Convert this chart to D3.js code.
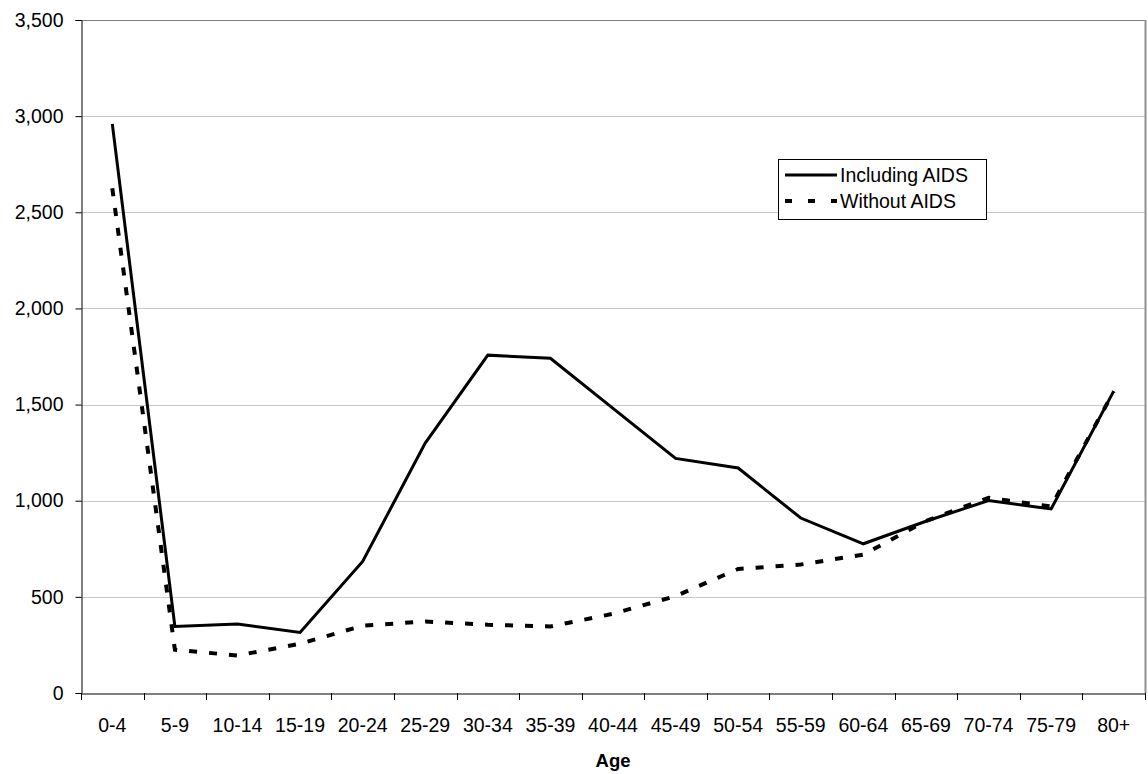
<!DOCTYPE html>
<html>
<head>
<meta charset="utf-8">
<script src="https://cdn.jsdelivr.net/npm/d3@7"></script>
<style>
  html, body { margin: 0; padding: 0; background: #fff; }
  svg { display: block; font-family: "Liberation Sans", Arial, sans-serif; }
</style>
</head>
<body>
<svg id="chart" width="1148" height="774"></svg>
<script>
const categories = ["0-4","5-9","10-14","15-19","20-24","25-29","30-34","35-39","40-44","45-49","50-54","55-59","60-64","65-69","70-74","75-79","80+"];
const includingAIDS = [2960, 346, 359, 315, 684, 1300, 1757, 1741, 1480, 1220, 1170, 910, 776, 893, 1001, 957, 1570];
const withoutAIDS   = [2625, 225, 195, 256, 350, 372, 355, 346, 412, 504, 645, 668, 720, 895, 1015, 970, 1568];
const yTicks = [0, 500, 1000, 1500, 2000, 2500, 3000, 3500];
const seriesNames = ["Including AIDS", "Without AIDS"];
const xTitle = "Age";

const FS = 19.5;
const svg = d3.select("#chart");
const margin = {left: 81, right: 3, top: 20, bottom: 81};
const W = 1148, H = 774;
const x = d3.scaleBand().domain(categories).range([margin.left, W - margin.right]).padding(0);
const y = d3.scaleLinear().domain([0, 3500]).range([H - margin.bottom, margin.top]);

// gridlines
svg.append("g").selectAll("line").data(yTicks.filter(d => d > 0)).join("line")
  .attr("x1", margin.left).attr("x2", W - margin.right)
  .attr("y1", d => Math.round(y(d)) + 0.5).attr("y2", d => Math.round(y(d)) + 0.5)
  .attr("stroke", d => d === 3500 ? "#808080" : "#c8c8c8").attr("stroke-width", 1);

// right border
svg.append("line").attr("x1", W - margin.right + 0.5).attr("x2", W - margin.right + 0.5)
  .attr("y1", y(3500)).attr("y2", y(0)).attr("stroke", "#909090").attr("stroke-width", 2);

// y axis
const yAxis = d3.axisLeft(y).tickValues(yTicks).tickFormat(d3.format(",")).tickSize(6).tickPadding(12);
const gy = svg.append("g").attr("transform", `translate(${margin.left + 0.5},0)`).call(yAxis);
gy.select(".domain").attr("stroke", "#000");
gy.selectAll(".tick line").attr("stroke", "#000");
gy.selectAll("text").attr("font-size", FS).attr("fill", "#000")
  .attr("font-family", "'Liberation Sans', Arial, sans-serif");

// x axis
const xAxis = d3.axisBottom(x).tickSize(0).tickPadding(0);
const gx = svg.append("g").attr("transform", `translate(0,${Math.round(y(0)) + 0.5})`).call(xAxis);
gx.select(".domain").attr("stroke", "#000");
gx.selectAll("text").attr("font-size", FS).attr("fill", "#000").attr("y", 38).attr("dy", null)
  .attr("font-family", "'Liberation Sans', Arial, sans-serif");
// tick marks at band boundaries
const bounds = categories.map(c => x(c)).concat([x(categories[categories.length-1]) + x.bandwidth()]);
svg.append("g").selectAll("line").data(bounds).join("line")
  .attr("x1", d => Math.round(d) + 0.5).attr("x2", d => Math.round(d) + 0.5)
  .attr("y1", Math.round(y(0))).attr("y2", Math.round(y(0)) + 7)
  .attr("stroke", "#000");

// x title
svg.append("text").attr("x", (margin.left + W - margin.right) / 2).attr("y", 767)
  .attr("text-anchor", "middle").attr("font-size", FS - 1).attr("font-weight", "bold").text(xTitle);

// lines
const line = d3.line().x((d, i) => x(categories[i]) + x.bandwidth() / 2).y(d => y(d));
svg.append("path").datum(withoutAIDS).attr("d", line)
  .attr("fill", "none").attr("stroke", "#000").attr("stroke-width", 4)
  .attr("stroke-dasharray", "8,12");
svg.append("path").datum(includingAIDS).attr("d", line)
  .attr("fill", "none").attr("stroke", "#000").attr("stroke-width", 3);

// legend
const lg = svg.append("g").attr("transform", "translate(778,159)");
lg.append("rect").attr("x", 0.5).attr("y", 0.5).attr("width", 208).attr("height", 60)
  .attr("fill", "#fff").attr("stroke", "#000").attr("stroke-width", 1);
lg.append("line").attr("x1", 7).attr("x2", 59).attr("y1", 16).attr("y2", 16)
  .attr("stroke", "#000").attr("stroke-width", 3);
lg.append("line").attr("x1", 7).attr("x2", 59).attr("y1", 42).attr("y2", 42)
  .attr("stroke", "#000").attr("stroke-width", 4).attr("stroke-dasharray", "7,16");
lg.append("text").attr("x", 62).attr("y", 23).attr("font-size", FS).text(seriesNames[0]);
lg.append("text").attr("x", 62).attr("y", 49).attr("font-size", FS).text(seriesNames[1]);
</script>
</body>
</html>
